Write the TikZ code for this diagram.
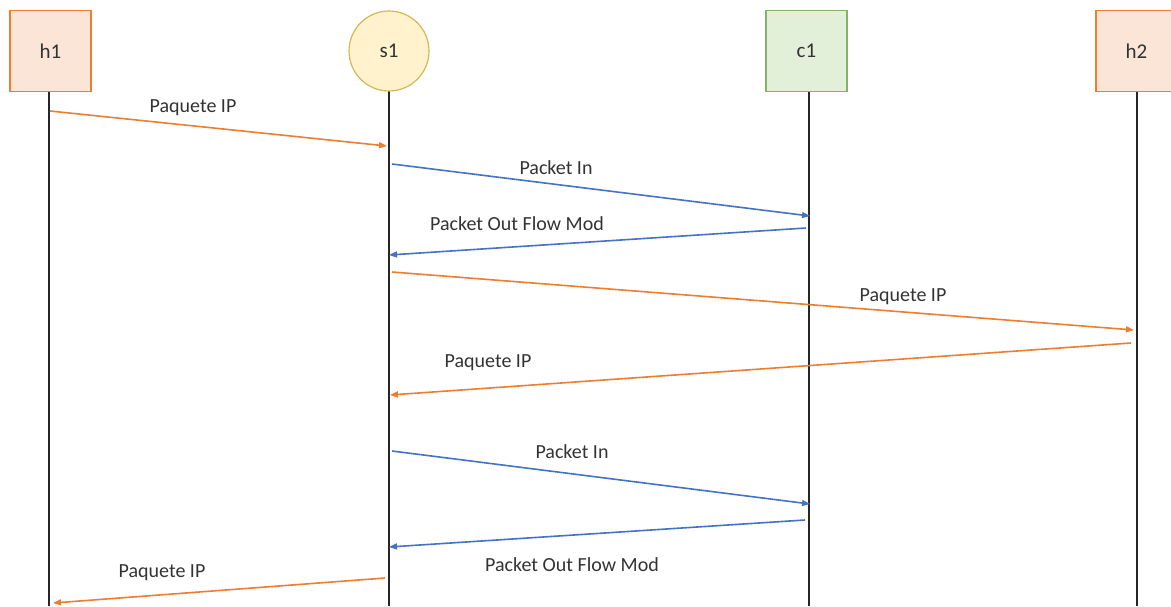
\documentclass[tikz,border=0pt]{standalone}
\usepackage{fontspec}
\setmainfont{Carlito}
\usetikzlibrary{arrows.meta}
\definecolor{msgorange}{HTML}{ED7D31}
\definecolor{msgblue}{HTML}{4472C4}
\definecolor{hostfill}{HTML}{FBE5D6}
\definecolor{swfill}{HTML}{FFF2CC}
\definecolor{swline}{HTML}{D6B656}
\definecolor{ctlfill}{HTML}{E2F0D9}
\definecolor{ctlline}{HTML}{82B366}
\definecolor{txt}{HTML}{333333}
\tikzset{
  actor/.style={draw, line width=1.2pt, minimum width=81pt, minimum height=81pt,
    inner sep=0pt, text=txt, font=\fontsize{21}{25}\selectfont},
  host/.style={actor, fill=hostfill, draw=msgorange},
  switch/.style={actor, circle, minimum size=80pt, fill=swfill, draw=swline},
  ctrl/.style={actor, fill=ctlfill, draw=ctlline},
  lifeline/.style={line width=2pt, black!85},
  msg/.style={line width=1.6pt, -{Triangle[length=8pt,width=6pt]}},
  omsg/.style={msg, msgorange},
  bmsg/.style={msg, msgblue},
  lbl/.style={text=txt, font=\fontsize{20}{24}\selectfont, inner sep=0pt}
}
\begin{document}
\begin{tikzpicture}[x=1pt,y=-1pt]
\useasboundingbox (0,0) rectangle (1171,606);
\begin{scope}
\clip (0,0) rectangle (1171,606);
% lifelines
\coordinate (h1b) at (49,606);
\coordinate (s1b) at (389,606);
\coordinate (c1b) at (809,606);
\coordinate (h2b) at (1137,606);
\coordinate (h1t) at (49,91);
\coordinate (s1t) at (389,90);
\coordinate (c1t) at (809,91);
\coordinate (h2t) at (1137,91);
\draw[lifeline] (h1t) -- (h1b);
\draw[lifeline] (s1t) -- (s1b);
\draw[lifeline] (c1t) -- (c1b);
\draw[lifeline] (h2t) -- (h2b);
% participants
\node[host]   (h1) at (50.5,51)  {h1};
\node[switch] (s1) at (389,51)   {s1};
\node[ctrl]   (c1) at (806.5,51) {c1};
\node[host]   (h2) at (1136.5,51){h2};
\end{scope}
% message end points
\coordinate (m1a) at (50,111);   \coordinate (m1b) at (387,146);
\coordinate (m2a) at (392,164);  \coordinate (m2b) at (810,216);
\coordinate (m3a) at (806,228);  \coordinate (m3b) at (389,255);
\coordinate (m4a) at (392,272);  \coordinate (m4b) at (1134,330);
\coordinate (m5a) at (1131,343); \coordinate (m5b) at (390,395);
\coordinate (m6a) at (392,451);  \coordinate (m6b) at (810,504);
\coordinate (m7a) at (805,520);  \coordinate (m7b) at (389,547);
\coordinate (m8a) at (385,578);  \coordinate (m8b) at (53,603);
% messages
\draw[omsg] (m1a) -- (m1b);
\draw[bmsg] (m2a) -- (m2b);
\draw[bmsg] (m3a) -- (m3b);
\draw[omsg] (m4a) -- (m4b);
\draw[omsg] (m5a) -- (m5b);
\draw[bmsg] (m6a) -- (m6b);
\draw[bmsg] (m7a) -- (m7b);
\draw[omsg] (m8a) -- (m8b);
% labels
\node[lbl] (l1) at (193,108) {Paquete IP};
\node[lbl] (l2) at (556,168) {Packet In};
\node[lbl] (l3) at (517,224) {Packet Out Flow Mod};
\node[lbl] (l4) at (903,297) {Paquete IP};
\node[lbl] (l5) at (488,363) {Paquete IP};
\node[lbl] (l6) at (572,452) {Packet In};
\node[lbl] (l7) at (572,565) {Packet Out Flow Mod};
\node[lbl] (l8) at (162,573) {Paquete IP};
\end{tikzpicture}
\end{document}
